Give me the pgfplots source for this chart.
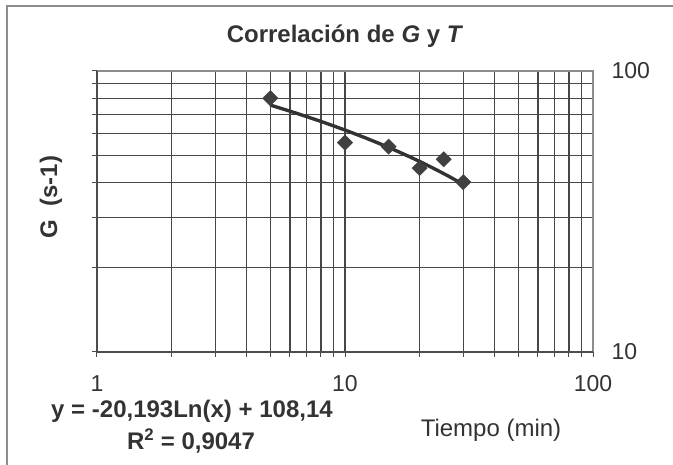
\documentclass[border=0pt]{standalone}
\usepackage{pgfplots}
\pgfplotsset{compat=1.18}
\usepackage{fontspec}
\setmainfont{Liberation Sans}
\definecolor{txt}{HTML}{333333}
\definecolor{mk}{HTML}{404040}
\begin{document}
\begin{tikzpicture}[x=1pt,y=1pt]
\useasboundingbox (0,0) rectangle (673,464);
\draw[black!45, line width=1.5pt] (7,-10) rectangle (690,458);
\begin{axis}[
  at={(97pt,112pt)}, anchor=south west,
  scale only axis, width=496pt, height=281pt,
  xmode=log, ymode=log,
  xmin=1, xmax=100, ymin=10, ymax=100,
  xtick={1,10,100}, xticklabels={1,10,100},
  ytick={10,100}, yticklabels={10,100},
  minor xtick={2,3,4,5,6,7,8,9,20,30,40,50,60,70,80,90},
  minor ytick={20,30,40,50,60,70,80,90},
  grid=both,
  major grid style={black!72, line width=1.1pt},
  minor grid style={black!72, line width=1.1pt},
  axis line style={draw=none},
  tick align=outside,
  major tick length=5pt, minor tick length=5pt,
  tick style={black!70, line width=1pt},
  xtick pos=bottom,
  ytick pos=left,
  yticklabel pos=right,
  ytick pos=left,
  /pgf/number format/assume math mode=true,
  ticklabel style={font=\fontsize{23}{27}\selectfont, text=txt},
  yticklabel style={xshift=10pt},
  xticklabel style={yshift=-15pt},
  clip=false,
]
\addplot[line width=3.4pt, color=txt, line join=round] coordinates {
  (5,75.64) (6,71.96) (7,68.85) (8,66.15) (9,63.77) (10,61.64)
  (12,57.96) (14,54.85) (16,52.15) (18,49.77) (20,47.65) (22,45.72)
  (24,43.96) (26,42.35) (28,40.85) (30,39.46)
};
\addplot[only marks, mark=square*, mark size=5.4pt, mark options={rotate=45, fill=mk, draw=mk}] coordinates {
  (5,80) (10,55.6) (15,53.8) (20,45.1) (25,48.5) (30,40.2)
};
\draw[black!45, line width=1.8pt] (rel axis cs:0,1) -- (rel axis cs:1,1) -- (rel axis cs:1,0);
\draw[black!70, line width=1.4pt] (rel axis cs:0,1) -- (rel axis cs:0,0) -- (rel axis cs:1,0);
\end{axis}
\node[font=\fontsize{24}{28}\selectfont\bfseries, text=txt] at (345,428) {Correlación de \textit{G} y \textit{T}};
\node[font=\fontsize{24}{28}\selectfont\bfseries, text=txt, rotate=90] at (51,267) {G\ \ (s-1)};
\node[font=\fontsize{24}{28}\selectfont, text=txt] at (491,34) {Tiempo (min)};
\node[font=\fontsize{24}{28}\selectfont\bfseries, text=txt] at (192,53) {y = -20,193Ln(x) + 108,14};
\node[font=\fontsize{24}{28}\selectfont\bfseries, text=txt] at (191,23) {R\textsuperscript{2} = 0,9047};
\end{tikzpicture}
\end{document}
